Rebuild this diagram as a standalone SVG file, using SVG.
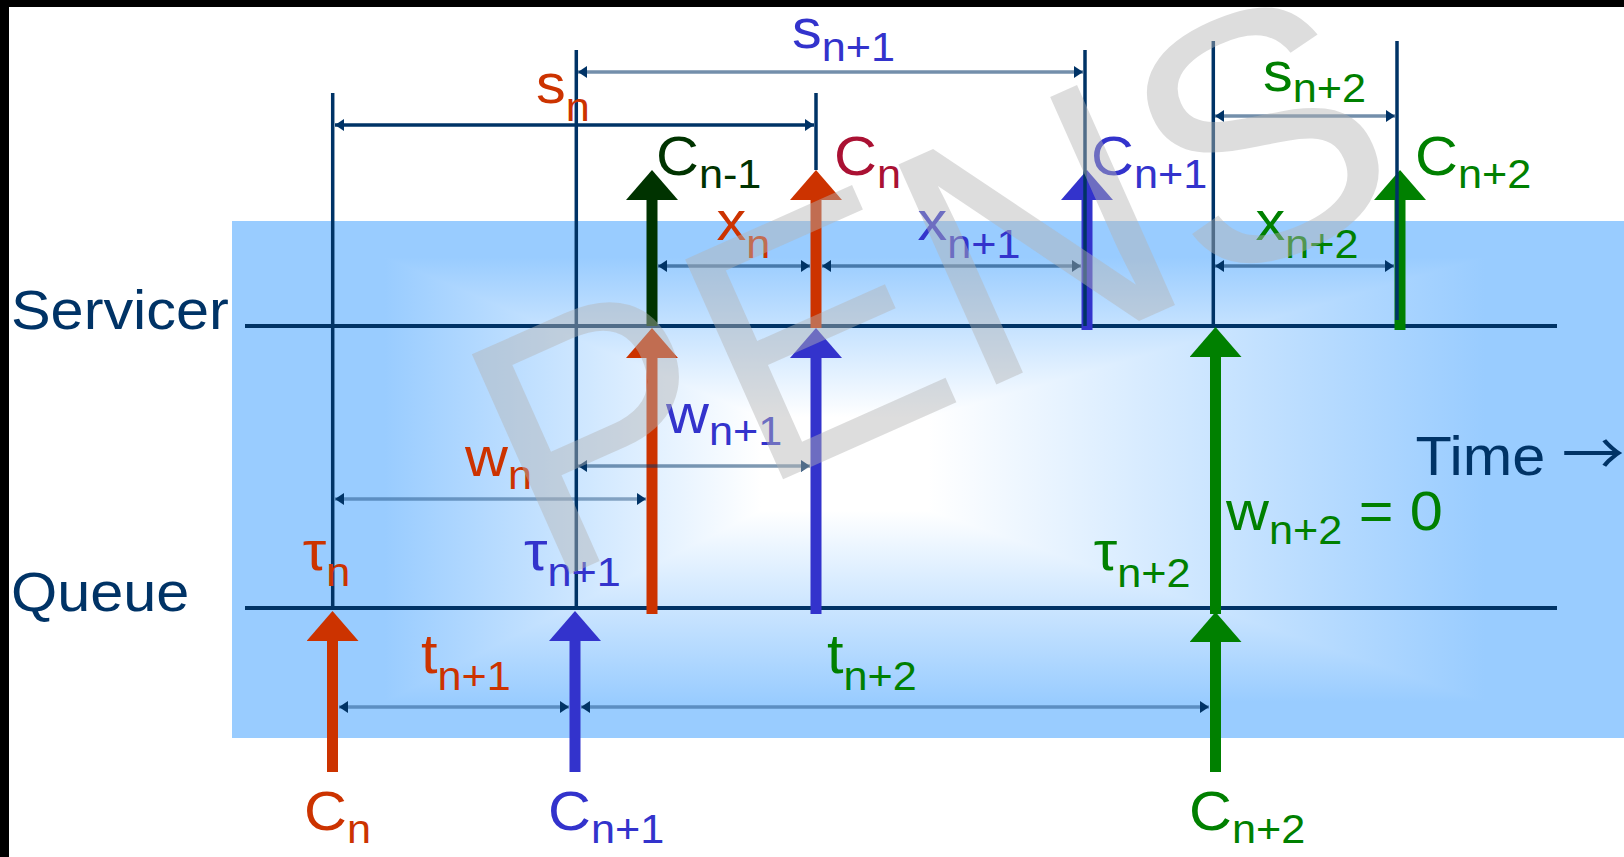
<svg xmlns="http://www.w3.org/2000/svg" width="1624" height="857" viewBox="0 0 1624 857">
<defs>
<style>
.t{font-family:"Liberation Sans",Arial,sans-serif;font-size:55px}
.sub{font-size:40px}
.navy{fill:#003366}.red{fill:#CC3300}.crim{fill:#AA1133}.blue{fill:#3333CC}.green{fill:#008000}.dkg{fill:#003300}
.axis{stroke:#003366;stroke-width:4;fill:none}
.vl{stroke:#003366;stroke-width:3.5;fill:none}
.dim{stroke:#003366;stroke-width:3.5;fill:none;marker-start:url(#dm);marker-end:url(#dm)}
.shaft{stroke-width:11;fill:none}
</style>
<linearGradient id="gh" x1="0" y1="0" x2="1" y2="0">
<stop offset="0" stop-color="#99CCFF"/>
<stop offset="0.11" stop-color="#99CCFF"/>
<stop offset="0.38" stop-color="#FFFFFF"/>
<stop offset="0.5" stop-color="#FFFFFF"/>
<stop offset="0.9" stop-color="#99CCFF"/>
<stop offset="1" stop-color="#99CCFF"/>
</linearGradient>
<linearGradient id="gv" x1="0" y1="0" x2="0" y2="1">
<stop offset="0" stop-color="#99CCFF"/>
<stop offset="0.07" stop-color="#99CCFF"/>
<stop offset="0.38" stop-color="#FFFFFF"/>
<stop offset="0.56" stop-color="#FFFFFF"/>
<stop offset="0.93" stop-color="#99CCFF"/>
<stop offset="1" stop-color="#99CCFF"/>
</linearGradient>
<marker id="dm" viewBox="0 0 9 12" refX="9" refY="6" markerWidth="9" markerHeight="12" orient="auto-start-reverse" markerUnits="userSpaceOnUse"><path d="M0,0 L9,6 L0,12 z" fill="#003366"/></marker>
<marker id="hr" viewBox="0 0 30 52" refX="0" refY="26" markerWidth="30" markerHeight="52" orient="auto" markerUnits="userSpaceOnUse"><path d="M0,0 L30,26 L0,52 z" fill="#CC3300"/></marker>
<marker id="hb" viewBox="0 0 30 52" refX="0" refY="26" markerWidth="30" markerHeight="52" orient="auto" markerUnits="userSpaceOnUse"><path d="M0,0 L30,26 L0,52 z" fill="#3333CC"/></marker>
<marker id="hg" viewBox="0 0 30 52" refX="0" refY="26" markerWidth="30" markerHeight="52" orient="auto" markerUnits="userSpaceOnUse"><path d="M0,0 L30,26 L0,52 z" fill="#008000"/></marker>
<marker id="hd" viewBox="0 0 30 52" refX="0" refY="26" markerWidth="30" markerHeight="52" orient="auto" markerUnits="userSpaceOnUse"><path d="M0,0 L30,26 L0,52 z" fill="#003300"/></marker>
</defs>
<rect x="0" y="0" width="1624" height="857" fill="#FFFFFF"/>
<rect x="0" y="0" width="1624" height="7" fill="#000000"/>
<rect x="0" y="0" width="9" height="857" fill="#000000"/>
<g id="band" style="isolation:isolate">
<rect x="232" y="221" width="1392" height="517" fill="url(#gh)"/>
<rect x="232" y="221" width="1392" height="517" fill="url(#gv)" style="mix-blend-mode:darken"/>
</g>
<g id="axes">
<line class="axis" x1="245" y1="326" x2="1557" y2="326"/>
<line class="axis" x1="245" y1="608" x2="1557" y2="608"/>
</g>
<g id="arrows">
<line class="shaft" stroke="#CC3300" x1="332.5" y1="772" x2="332.5" y2="641" marker-end="url(#hr)"/>
<line class="shaft" stroke="#3333CC" x1="575" y1="772" x2="575" y2="641" marker-end="url(#hb)"/>
<line class="shaft" stroke="#008000" x1="1215.5" y1="772" x2="1215.5" y2="642" marker-end="url(#hg)"/>
<line class="shaft" stroke="#CC3300" x1="652" y1="614" x2="652" y2="358" marker-end="url(#hr)"/>
<line class="shaft" stroke="#3333CC" x1="816" y1="614" x2="816" y2="358" marker-end="url(#hb)"/>
<line class="shaft" stroke="#008000" x1="1215.5" y1="614" x2="1215.5" y2="357" marker-end="url(#hg)"/>
<line class="shaft" stroke="#003300" x1="652" y1="326" x2="652" y2="200" marker-end="url(#hd)"/>
<line class="shaft" stroke="#CC3300" x1="816" y1="328" x2="816" y2="200" marker-end="url(#hr)"/>
<line class="shaft" stroke="#3333CC" x1="1087" y1="330" x2="1087" y2="200" marker-end="url(#hb)"/>
<line class="shaft" stroke="#008000" x1="1400" y1="330" x2="1400" y2="200" marker-end="url(#hg)"/>
</g>
<g id="markers">
<line class="vl" x1="332.7" y1="93" x2="332.7" y2="608"/>
<line class="vl" x1="576.3" y1="50" x2="576.3" y2="608"/>
<line class="vl" x1="816" y1="93" x2="816" y2="170"/>
<line class="vl" x1="1085" y1="50" x2="1085" y2="326"/>
<line class="vl" x1="1213.3" y1="41" x2="1213.3" y2="324"/>
<line class="vl" x1="1397" y1="41" x2="1397" y2="320"/>
</g>
<g id="dimensions">
<line class="dim" stroke-opacity="0.55" x1="578" y1="72" x2="1083" y2="72"/>
<line class="dim" x1="335" y1="125" x2="814" y2="125"/>
<line class="dim" stroke-opacity="0.55" x1="1215" y1="116" x2="1395" y2="116"/>
<line class="dim" stroke-opacity="0.55" x1="658" y1="266" x2="810" y2="266"/>
<line class="dim" stroke-opacity="0.55" x1="822" y1="266" x2="1081" y2="266"/>
<line class="dim" stroke-opacity="0.55" x1="1215" y1="266" x2="1394" y2="266"/>
<line class="dim" stroke-opacity="0.5" x1="578" y1="466" x2="810" y2="466"/>
<line class="dim" stroke-opacity="0.4" x1="335" y1="499" x2="646" y2="499"/>
<line class="dim" stroke-opacity="0.4" x1="339" y1="707" x2="569" y2="707"/>
<line class="dim" stroke-opacity="0.4" x1="581" y1="707" x2="1209" y2="707"/>
</g>
<g id="labels">
<text class="t navy" transform="translate(11 329) scale(1.08 1)">Servicer</text>
<text class="t navy" transform="translate(11 611) scale(1.08 1)">Queue</text>
<text class="t navy" transform="translate(1415.5 475) scale(1.08 1)">Time <tspan font-family="Noto Sans CJK JP, DejaVu Sans, sans-serif" font-size="58">→</tspan></text>
<text class="t red" transform="translate(536 103) scale(1.08 1)">s<tspan class="sub" dy="18">n</tspan></text>
<text class="t blue" transform="translate(792 48) scale(1.08 1)">s<tspan class="sub" dy="13">n+1</tspan></text>
<text class="t green" transform="translate(1263 91) scale(1.08 1)">s<tspan class="sub" dy="11">n+2</tspan></text>
<text class="t dkg" transform="translate(656 175) scale(1.08 1)">C<tspan class="sub" dy="13">n-1</tspan></text>
<text class="t crim" transform="translate(834 175) scale(1.08 1)">C<tspan class="sub" dy="13">n</tspan></text>
<text class="t blue" transform="translate(1091 175) scale(1.08 1)">C<tspan class="sub" dy="13">n+1</tspan></text>
<text class="t green" transform="translate(1415 175) scale(1.08 1)">C<tspan class="sub" dy="13">n+2</tspan></text>
<text class="t red" transform="translate(716.5 240) scale(1.08 1)">x<tspan class="sub" dy="18">n</tspan></text>
<text class="t blue" transform="translate(917.5 240) scale(1.08 1)">x<tspan class="sub" dy="18">n+1</tspan></text>
<text class="t green" transform="translate(1255.5 240) scale(1.08 1)">x<tspan class="sub" dy="18">n+2</tspan></text>
<text class="t blue" transform="translate(666 433) scale(1.08 1)">w<tspan class="sub" dy="12">n+1</tspan></text>
<text class="t red" transform="translate(465 476) scale(1.08 1)">w<tspan class="sub" dy="13">n</tspan></text>
<text class="t green" transform="translate(1226 530) scale(1.08 1)">w<tspan class="sub" dy="14">n+2</tspan><tspan dy="-14"> = 0</tspan></text>
<text class="t red" transform="translate(302.7 570) scale(1.08 1)">τ<tspan class="sub" dy="16">n</tspan></text>
<text class="t blue" transform="translate(524 570) scale(1.08 1)">τ<tspan class="sub" dy="16">n+1</tspan></text>
<text class="t green" transform="translate(1093.7 570) scale(1.08 1)">τ<tspan class="sub" dy="17">n+2</tspan></text>
<text class="t red" transform="translate(421 673) scale(1.08 1)">t<tspan class="sub" dy="17">n+1</tspan></text>
<text class="t green" transform="translate(827 673) scale(1.08 1)">t<tspan class="sub" dy="17">n+2</tspan></text>
<text class="t red" transform="translate(304 830) scale(1.08 1)">C<tspan class="sub" dy="13">n</tspan></text>
<text class="t blue" transform="translate(548 830) scale(1.08 1)">C<tspan class="sub" dy="13">n+1</tspan></text>
<text class="t green" transform="translate(1189 830) scale(1.08 1)">C<tspan class="sub" dy="13">n+2</tspan></text>
</g>
<text id="watermark" x="543.6" y="586" transform="rotate(-24 543.6 586)" font-family="Liberation Sans, Arial, sans-serif" font-size="350" fill="#B4B4B4" fill-opacity="0.45">PENS</text>
</svg>
